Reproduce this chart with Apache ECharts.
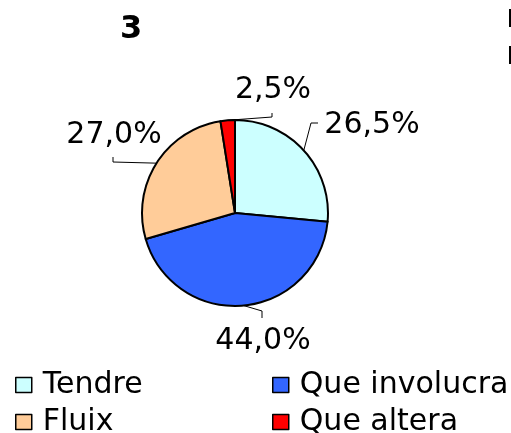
<!DOCTYPE html>
<html>
<head>
<meta charset="utf-8">
<script src="https://cdn.jsdelivr.net/npm/echarts@6/dist/echarts.min.js"></script>
<style>
  html, body { margin: 0; padding: 0; background: #fff; }
  #chart { width: 511px; height: 433px; }
</style>
</head>
<body>
<div id="chart"></div>
<script>
// Slice categories and their shares (%)
const categories = ['Tendre', 'Que involucra', 'Fluix', 'Que altera'];
const shares = [26.5, 44.0, 27.0, 2.5];
const sliceColors = ['#CCFFFF', '#3366FF', '#FFCC99', '#FF0000'];
const chartTitle = '3';

// Legend columns
const legendLeft = ['Tendre', 'Fluix'];
const legendRight = ['Que involucra', 'Que altera'];

// Where each value label sits and how its leader line bends (px)
const labelPlacement = [
  { x: 372, y: 125, bend: [311, 123], end: [318, 123] },
  { x: 263, y: 341, bend: [262, 311], end: [262, 318] },
  { x: 114, y: 135, bend: [113, 162], end: [113, 157] },
  { x: 273, y: 90,  bend: [272, 117], end: [272, 113] }
];

const FONT = 'DejaVu Sans';
const fmt = v => v.toFixed(1).replace('.', ',') + '%';

const chart = echarts.init(document.getElementById('chart'), null, { renderer: 'canvas' });

const legendCommon = {
  orient: 'vertical',
  icon: 'rect',
  itemWidth: 16,
  itemHeight: 15,
  itemGap: 7,
  top: 370,
  height: 120,
  width: 240,
  padding: 0,
  itemStyle: { borderColor: '#000', borderWidth: 1.5 },
  textStyle: { fontFamily: FONT, fontSize: 30, color: '#000', lineHeight: 29, padding: [0, 0, 0, 6] },
  selectedMode: false
};

chart.setOption({
  animation: false,
  backgroundColor: '#fff',
  title: {
    text: chartTitle,
    left: 115,
    top: 9,
    textStyle: { fontFamily: FONT, fontWeight: 'bold', fontSize: 32, color: '#000' }
  },
  legend: [
    Object.assign({}, legendCommon, { left: 15, data: legendLeft }),
    Object.assign({}, legendCommon, { left: 272, data: legendRight })
  ],
  graphic: [
    { type: 'rect', left: 509, top: 9, shape: { width: 14, height: 16 },
      style: { fill: '#fff', stroke: '#000', lineWidth: 2 } },
    { type: 'rect', left: 509, top: 46, shape: { width: 14, height: 16 },
      style: { fill: '#fff', stroke: '#000', lineWidth: 2 } }
  ],
  series: [{
    type: 'pie',
    center: [235, 213],
    radius: 93,
    startAngle: 90,
    clockwise: true,
    avoidLabelOverlap: false,
    data: categories.map((name, i) => ({
      name,
      value: shares[i],
      itemStyle: { color: sliceColors[i] }
    })),
    itemStyle: { borderColor: '#000', borderWidth: 2 },
    label: {
      show: true,
      position: 'outside',
      formatter: p => fmt(p.value),
      fontFamily: FONT,
      fontSize: 30,
      color: '#000'
    },
    labelLine: {
      show: true,
      length: 15,
      length2: 10,
      lineStyle: { color: '#000', width: 1 }
    },
    labelLayout: params => {
      const pl = labelPlacement[params.dataIndex];
      const start = params.labelLinePoints ? params.labelLinePoints[0] : pl.bend;
      return {
        x: pl.x,
        y: pl.y,
        align: 'center',
        verticalAlign: 'middle',
        labelLinePoints: [start, pl.bend, pl.end]
      };
    },
    emphasis: { disabled: true }
  }]
});
</script>
</body>
</html>
